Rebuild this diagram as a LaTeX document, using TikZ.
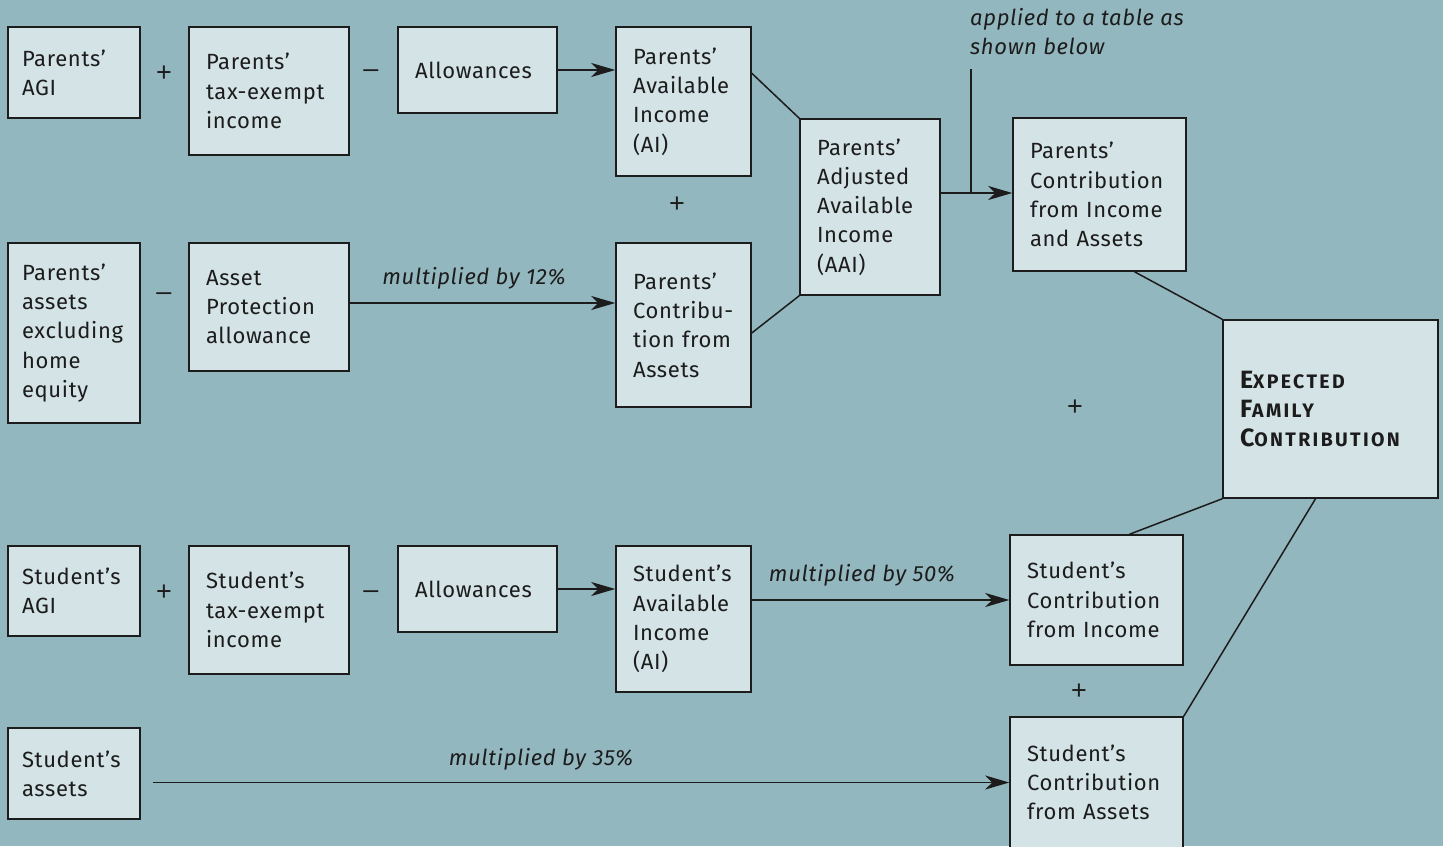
\documentclass[tikz,border=0pt]{standalone}
\usepackage{fontspec}
\setmainfont[LetterSpace=3]{Fira Sans}
\newfontfamily\efcfont[LetterSpace=12]{Fira Sans}
\newfontfamily\opfont{Liberation Sans}
\usetikzlibrary{arrows.meta,calc}
\definecolor{bg}{HTML}{93B7BF}
\definecolor{boxfill}{HTML}{D4E3E6}
\definecolor{ink}{HTML}{1C1C1C}
\newcommand\mainsz{\fontsize{22}{29.3}\selectfont}
\newcommand\bx[7]{%
  \pgfmathsetmacro\bxw{#4-#2-2*#6}%
  \pgfmathsetmacro\bxh{#5-#3}%
  \node[box, inner xsep=#6pt, text width=\bxw pt, minimum height=\bxh pt] (#1) at ({(#2+#4)/2},{(#3+#5)/2}) {#7};}
\newcommand\fsc[2]{{\fontsize{25}{32}\selectfont #1}{\fontsize{19.5}{32}\selectfont #2}}
\begin{document}
\begin{tikzpicture}[x=1pt,y=-1pt,
  box/.style={draw=ink, fill=boxfill, line width=1.5pt, align=left, inner ysep=0pt, text=ink, font=\mainsz},
  opsign/.style={text=ink, font={\opfont\fontsize{27}{30}\selectfont}, inner sep=0pt},
  lbl/.style={text=ink, font=\mainsz\itshape, inner sep=0pt},
  conn/.style={draw=ink, line width=1.5pt},
  arr/.style={conn, -{Stealth[length=24pt,width=14pt,inset=7pt]}}]
\fill[bg] (0,0) rectangle (1443,846);
\useasboundingbox (0,0) rectangle (1443,846);
% parents income row
\bx{pagi}{8}{27}{140}{118}{14}{Parents’\\AGI}
\bx{ptax}{189}{27}{349}{155}{17}{Parents’\\tax-exempt\\income}
\bx{palw}{398}{27}{557}{113}{17}{Allowances}
\bx{pai}{616}{27}{751}{176}{17}{Parents’\\Available\\Income\\(AI)}
\bx{paai}{800}{119}{940}{295}{17}{Parents’\\Adjusted\\Available\\Income\\(AAI)}
\bx{pcia}{1013}{118}{1186}{271}{17}{Parents’\\Contribution\\from Income\\and Assets}
% EFC
\bx{efc}{1223}{320}{1438}{498}{17}{\efcfont\bfseries\fsc{E}{XPECTED}\\\fsc{F}{AMILY}\\\fsc{C}{ONTRIBUTION}}
% parents assets row
\bx{pas}{8}{243}{140}{423}{14}{Parents’\\assets\\excluding\\home\\equity}
\bx{apa}{189}{243}{349}{371}{17}{Asset\\Protection\\allowance}
\bx{pca}{616}{243}{751}{407}{17}{Parents’\\Contribu-\\tion from\\Assets}
% student income row
\bx{sagi}{8}{546}{140}{636}{14}{Student’s\\AGI}
\bx{stax}{189}{546}{349}{674}{17}{Student’s\\tax-exempt\\income}
\bx{salw}{398}{546}{557}{632}{17}{Allowances}
\bx{sai}{616}{546}{751}{692}{17}{Student’s\\Available\\Income\\(AI)}
\bx{sci}{1010}{535}{1183}{665}{17}{Student’s\\Contribution\\from Income}
% student assets row
\bx{sas}{8}{728}{140}{819}{14}{Student’s\\assets}
\bx{sca}{1010}{717}{1183}{848}{17}{Student’s\\Contribution\\from Assets}
% operators
\node[opsign] (o1) at (164,74) {+};
\node[opsign] (o2) at (371,74) {–};
\node[opsign] (o3) at (677,205) {+};
\node[opsign] (o4) at (164,297) {–};
\node[opsign] (o5) at (164,593) {+};
\node[opsign] (o6) at (371,595) {–};
\node[opsign] (o7) at (1075,408) {+};
\node[opsign] (o8) at (1079,692) {+};
% labels
\node[lbl] (l12) at (474,278) {multiplied by 12\%};
\node[lbl] (l50) at (862,575) {multiplied by 50\%};
\node[lbl] (l35) at (541,759) {multiplied by 35\%};
\node[lbl, align=left, anchor=north west] (ann) at (970,8) {applied to a table as\\shown below};
% connectors
\draw[arr] (palw.east) -- (pai.west |- palw.east);
\draw[conn] ($(pai.north east)+(0,47)$) -- (paai.north west);
\draw[conn] ($(pca.east)+(0,8)$) -- (paai.south west);
\coordinate (tjoin) at (971,193);
\coordinate (ttop) at (971,69);
\draw[conn] (ttop) -- (tjoin);
\draw[arr] (paai.east |- tjoin) -- (pcia.west |- tjoin);
\draw[arr] ($(apa.east)+(0,-4)$) -- ($(pca.west |- apa.east)+(0,-4)$);
\draw[arr] (salw.east) -- (sai.west |- salw.east);
\draw[arr] (sai.east |- sci.west) -- (sci.west);
\draw[arr] ($(sas.east |- sca.west)+(12,0)$) -- (sca.west);
\draw[conn] ($(pcia.south)+(35,0)$) -- (efc.north west);
\draw[conn] ($(sci.north)+(33,0)$) -- (efc.south west);
\draw[conn] (sca.north east) -- ($(efc.south)+(-15,0)$);
\end{tikzpicture}
\end{document}
